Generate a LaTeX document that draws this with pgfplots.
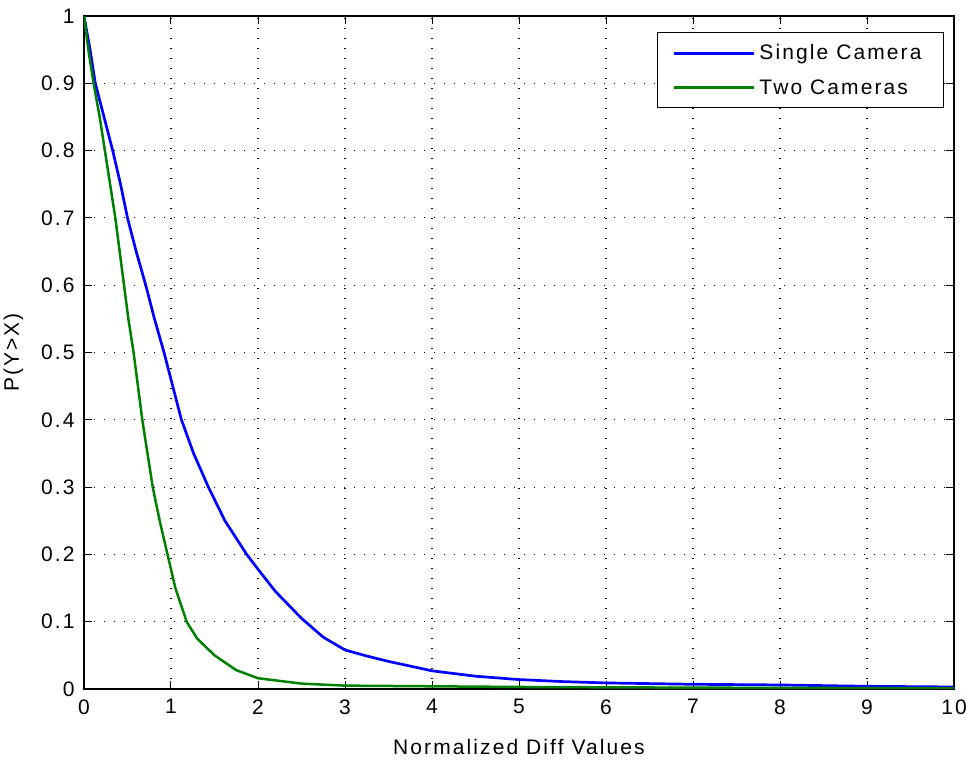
\documentclass[border=0pt]{standalone}
\usepackage{pgfplots}
\pgfplotsset{compat=1.18}
\usepackage{fontspec}
\setmainfont{Liberation Sans}[LetterSpace=10]

\definecolor{mblue}{RGB}{0,0,255}
\definecolor{mgreen}{RGB}{0,128,0}

\newcommand{\lblfont}{\fontsize{21}{24}\selectfont}

\begin{document}
\begin{tikzpicture}
\begin{axis}[
  scale only axis,
  width=870pt, height=673pt,
  xmin=0, xmax=10, ymin=0, ymax=1,
  xtick={0,1,...,10},
  ytick={0,0.1,...,1},
  yticklabel style={/pgf/number format/fixed},
  /pgf/number format/assume math mode=true,
  tick label style={font=\lblfont},
  label style={font=\lblfont},
  xticklabel style={yshift=-7pt},
  yticklabel style={xshift=-6pt},
  tick align=inside,
  major tick length=8pt,
  every tick/.style={black, line width=1pt},
  axis line style={black, line width=1.2pt},
  grid=major,
  major grid style={black, line width=1.1pt, dash pattern=on 1.1pt off 8.9pt},
  xlabel={Normalized Diff Values},
  ylabel={P(Y>X)},
  xlabel style={yshift=-18pt},
  ylabel style={yshift=11pt},
  legend style={
    at={(rel axis cs:0.9885,0.976)}, anchor=north east,
    draw=black, line width=1pt,
    font=\lblfont,
    row sep=14pt, inner xsep=17pt, inner ysep=10pt,
    nodes={inner xsep=5pt},
  },
  legend cell align=left,
  legend image code/.code={\fill[#1, draw=none] (0pt,-1.5pt) rectangle (80pt,1.5pt);},
]
\addplot[mblue, line width=2.7pt] coordinates {
 (0,1.0) (0.07,0.95) (0.13,0.9) (0.23,0.85) (0.33,0.8) (0.42,0.75) (0.5,0.7)
 (0.6,0.65) (0.71,0.6) (0.81,0.55) (0.92,0.5) (1.0,0.46) (1.12,0.4)
 (1.26,0.35) (1.43,0.3) (1.62,0.25) (1.87,0.2) (2.0,0.178) (2.2,0.145)
 (2.5,0.105) (2.75,0.077) (3.0,0.058) (3.25,0.049) (3.5,0.041)
 (4.0,0.027) (4.5,0.019) (5.0,0.014) (5.5,0.011) (6.0,0.009)
 (7.0,0.007) (8.0,0.006) (9.0,0.004) (10,0.003)
};
\addlegendentry{Single Camera}
\addplot[mgreen, line width=2.5pt] coordinates {
 (0,1.0) (0.05,0.95) (0.11,0.9) (0.18,0.85) (0.24,0.8) (0.30,0.75)
 (0.36,0.7) (0.41,0.65) (0.46,0.6) (0.51,0.55) (0.57,0.5) (0.62,0.45)
 (0.67,0.4) (0.73,0.35) (0.79,0.3) (0.87,0.25) (0.96,0.2) (1.05,0.15)
 (1.18,0.1) (1.3,0.075) (1.5,0.05) (1.75,0.028) (2.0,0.016) (2.5,0.008)
 (3.0,0.005) (4.0,0.004) (5.0,0.003) (7.0,0.002) (10,0.001)
};
\addlegendentry{Two Cameras}
\end{axis}
\pgfresetboundingbox
\path ([shift={(-84pt,-73pt)}]current axis.south west)
  rectangle ([shift={(13pt,16pt)}]current axis.north east);
\end{tikzpicture}
\end{document}
